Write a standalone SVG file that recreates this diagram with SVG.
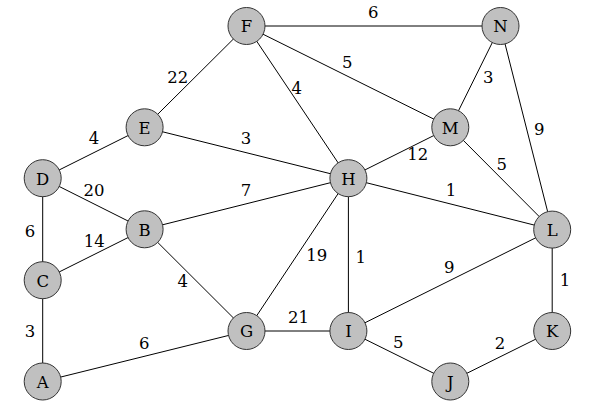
<svg xmlns="http://www.w3.org/2000/svg" width="592" height="414" viewBox="0 0 592 414">
<style>
.e{stroke:#000;stroke-width:1;fill:none}
.n circle{fill:#c0c0c0;stroke:#333;stroke-width:1}
.t{font-family:'DejaVu Serif', 'Liberation Serif', serif;font-size:16.5px;fill:#000;text-anchor:middle}
</style>
<rect width="592" height="414" fill="#fff"/>
<g id="edges" class="e">
<line x1="246.5" y1="26" x2="500.5" y2="26"/>
<line x1="246.5" y1="26" x2="144.6" y2="127.3"/>
<line x1="246.5" y1="26" x2="348.4" y2="178.2"/>
<line x1="246.5" y1="26" x2="450.3" y2="127.3"/>
<line x1="500.5" y1="26" x2="450.3" y2="127.3"/>
<line x1="500.5" y1="26" x2="552.2" y2="229.6"/>
<line x1="144.6" y1="127.3" x2="42.7" y2="178.2"/>
<line x1="144.6" y1="127.3" x2="348.4" y2="178.2"/>
<line x1="42.7" y1="178.2" x2="144.6" y2="229.3"/>
<line x1="42.7" y1="178.2" x2="42.7" y2="280.2"/>
<line x1="348.4" y1="178.2" x2="450.3" y2="127.3"/>
<line x1="348.4" y1="178.2" x2="144.6" y2="229.3"/>
<line x1="348.4" y1="178.2" x2="552.2" y2="229.6"/>
<line x1="348.4" y1="178.2" x2="246.5" y2="331"/>
<line x1="348.4" y1="178.2" x2="348.4" y2="331"/>
<line x1="450.3" y1="127.3" x2="552.2" y2="229.6"/>
<line x1="144.6" y1="229.3" x2="42.7" y2="280.2"/>
<line x1="144.6" y1="229.3" x2="246.5" y2="331"/>
<line x1="42.7" y1="280.2" x2="42.7" y2="381.5"/>
<line x1="42.7" y1="381.5" x2="246.5" y2="331"/>
<line x1="246.5" y1="331" x2="348.4" y2="331"/>
<line x1="348.4" y1="331" x2="552.2" y2="229.6"/>
<line x1="348.4" y1="331" x2="450.3" y2="381.5"/>
<line x1="552.2" y1="229.6" x2="552.2" y2="331"/>
<line x1="552.2" y1="331" x2="450.3" y2="381.5"/>
</g>
<g id="edge-labels" class="t">
<text x="373.3" y="18">6</text>
<text x="177.7" y="83">22</text>
<text x="296.7" y="94">4</text>
<text x="347.3" y="68">5</text>
<text x="488.3" y="83">3</text>
<text x="539.3" y="134.5">9</text>
<text x="94" y="144">4</text>
<text x="246" y="143.5">3</text>
<text x="94" y="195.5">20</text>
<text x="30" y="236.5">6</text>
<text x="417.7" y="159.5">12</text>
<text x="246" y="195.5">7</text>
<text x="451" y="195.5">1</text>
<text x="316.7" y="260.5">19</text>
<text x="360.7" y="263">1</text>
<text x="501.7" y="169.5">5</text>
<text x="94.3" y="247">14</text>
<text x="182.7" y="286.5">4</text>
<text x="30" y="336.5">3</text>
<text x="144.3" y="349">6</text>
<text x="298.5" y="323">21</text>
<text x="449.3" y="273">9</text>
<text x="398.3" y="348">5</text>
<text x="565" y="285.5">1</text>
<text x="500" y="349">2</text>
</g>
<g id="F" class="n t"><circle cx="246.5" cy="26" r="18.5"/><text x="246.5" y="32.3">F</text></g>
<g id="N" class="n t"><circle cx="500.5" cy="26" r="18.5"/><text x="500.5" y="32.3">N</text></g>
<g id="E" class="n t"><circle cx="144.6" cy="127.3" r="18.5"/><text x="144.6" y="133.6">E</text></g>
<g id="M" class="n t"><circle cx="450.3" cy="127.3" r="18.5"/><text x="450.3" y="133.6">M</text></g>
<g id="D" class="n t"><circle cx="42.7" cy="178.2" r="18.5"/><text x="42.7" y="184.5">D</text></g>
<g id="H" class="n t"><circle cx="348.4" cy="178.2" r="18.5"/><text x="348.4" y="184.5">H</text></g>
<g id="B" class="n t"><circle cx="144.6" cy="229.3" r="18.5"/><text x="144.6" y="235.6">B</text></g>
<g id="L" class="n t"><circle cx="552.2" cy="229.6" r="18.5"/><text x="552.2" y="235.9">L</text></g>
<g id="C" class="n t"><circle cx="42.7" cy="280.2" r="18.5"/><text x="42.7" y="286.5">C</text></g>
<g id="G" class="n t"><circle cx="246.5" cy="331" r="18.5"/><text x="246.5" y="337.3">G</text></g>
<g id="I" class="n t"><circle cx="348.4" cy="331" r="18.5"/><text x="348.4" y="337.3">I</text></g>
<g id="K" class="n t"><circle cx="552.2" cy="331" r="18.5"/><text x="552.2" y="337.3">K</text></g>
<g id="A" class="n t"><circle cx="42.7" cy="381.5" r="18.5"/><text x="42.7" y="387.8">A</text></g>
<g id="J" class="n t"><circle cx="450.3" cy="381.5" r="18.5"/><text x="450.3" y="387.8">J</text></g>
</svg>
